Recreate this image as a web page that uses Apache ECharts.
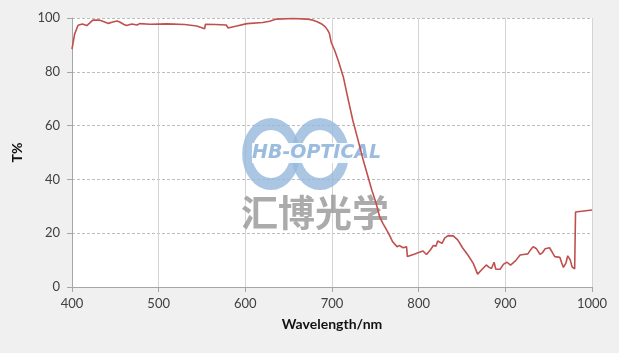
<!DOCTYPE html>
<html>
<head>
<meta charset="utf-8">
<script src="https://cdn.jsdelivr.net/npm/echarts@6/dist/echarts.min.js"></script>
<style>
    html, body { margin: 0; padding: 0; background: #f0f0f0; }
    #chart { width: 619px; height: 353px; }
</style>
</head>
<body>
<div id="chart"></div>
<script>
// wavelength (nm) and transmittance (%)
var wavelength = [400, 403, 407, 412, 417, 420, 424, 432, 437, 442, 447, 452, 455, 460, 463, 469, 475, 478,
    490, 510, 530, 544, 553, 554, 565, 578, 580, 590, 602, 620, 628, 636, 655, 671, 678, 683, 688, 692,
    695, 697, 699, 703, 707, 713, 718, 724, 729, 736, 746, 751, 755, 759, 763, 767, 770, 775, 778, 782,
    786, 787, 794, 800, 805, 809, 813, 817, 820, 822, 827, 830, 834, 840, 845, 851, 857, 863, 868, 873,
    878, 881, 884, 887, 889, 894, 898, 902, 906, 912, 917, 921, 926, 929, 932, 936, 940, 943, 946, 951,
    954, 957, 963, 965, 967, 970, 972, 975, 977, 980, 981, 1000];
var transmittance = [88.4, 94, 97.3, 97.8, 97.2, 98, 99.2, 99.2, 98.6, 98, 98.5, 98.9, 98.5, 97.6, 97.2, 97.8, 97.4, 97.9,
    97.7, 97.8, 97.6, 97.0, 96.0, 97.7, 97.6, 97.4, 96.3, 97.0, 97.9, 98.3, 98.8, 99.6, 99.8, 99.6, 99.2, 98.6, 97.8, 96.8,
    95.5, 94.3, 91, 88, 84.4, 78.2, 70.7, 62, 55.9, 47.2, 36, 31, 26.1, 23.5, 21.2, 18.8, 16.8, 15, 15.4, 14.6,
    15, 11.3, 12.1, 12.8, 13.4, 12.1, 13.6, 15.4, 15.2, 17.1, 16.2, 18.2, 19.1, 19, 17.5, 14.4, 11.8, 8.8, 4.8, 6.5,
    8.2, 7.4, 6.9, 9.2, 6.6, 6.6, 8.5, 9.2, 8.1, 9.8, 11.9, 12.1, 12.3, 13.8, 15, 14.2, 12.1, 12.8, 14.2, 14.6,
    13, 11.3, 11, 9, 7.3, 9, 11.6, 10, 7.5, 6.7, 27.9, 28.6];

var curve = [];
for (var i = 0; i < wavelength.length; i++) {
    curve.push([wavelength[i], transmittance[i]]);
}

var labelFont = 'Lato, "Open Sans", sans-serif';

var option = {
    backgroundColor: '#f0f0f0',
    animation: false,
    grid: {
        left: 72, right: 27, top: 18, bottom: 66,
        show: true, backgroundColor: '#ffffff', borderWidth: 0
    },
    xAxis: {
        type: 'value', min: 400, max: 1000, interval: 100,
        name: 'Wavelength/nm', nameLocation: 'middle', nameGap: 30,
        nameTextStyle: { fontFamily: labelFont, fontWeight: 'bold', fontSize: 14, color: '#111' },
        axisLine: { show: true, lineStyle: { color: '#a6a6a6' } },
        axisTick: { show: true, length: 5, lineStyle: { color: '#a6a6a6' } },
        axisLabel: {
            fontFamily: labelFont, fontSize: 13, color: '#404040', margin: 10,
            formatter: function (v) { return String(v); }
        },
        splitLine: { show: true, lineStyle: { color: '#d4d4d4', type: 'solid' } }
    },
    yAxis: {
        type: 'value', min: 0, max: 100, interval: 20,
        name: 'T%', nameLocation: 'middle', nameGap: 48,
        nameTextStyle: { fontFamily: labelFont, fontWeight: 'bold', fontSize: 14, color: '#111' },
        axisLine: { show: true, lineStyle: { color: '#a6a6a6' } },
        axisTick: { show: true, length: 5, lineStyle: { color: '#a6a6a6' } },
        axisLabel: { fontFamily: labelFont, fontSize: 13, color: '#404040', margin: 12 },
        splitLine: { show: true, lineStyle: { color: '#bdbdbd', type: [3, 2] } }
    },
    graphic: [
        // watermark logo
        { type: 'circle', x: 271, y: 154, scaleX: 0.8, shape: { cx: 0, cy: 0, r: 30 }, z: 100,
            style: { fill: null, stroke: 'rgba(150,184,220,0.8)', lineWidth: 12 } },
        { type: 'circle', x: 320, y: 154, scaleX: 0.8, shape: { cx: 0, cy: 0, r: 30 }, z: 100,
            style: { fill: null, stroke: 'rgba(150,184,220,0.8)', lineWidth: 12 } },
        { type: 'rect', x: 252, y: 143, shape: { width: 136, height: 20 }, z: 100,
            style: { fill: 'rgba(255,255,255,0.9)' } },
        { type: 'text', x: 252, y: 144, z: 101,
            style: { text: 'HB-OPTICAL', font: 'italic bold 19px "DejaVu Sans", sans-serif', fill: 'rgba(150,184,220,0.95)' } },
        { type: 'text', x: 241, y: 194, z: 101,
            style: { text: '汇博光学', font: 'bold 37px "Noto Sans CJK SC", sans-serif', fill: 'rgba(150,150,150,0.8)' } }
    ],
    series: [{
        type: 'line',
        data: curve,
        showSymbol: false,
        z: 200,
        lineStyle: { color: '#c0504d', width: 1.6 },
        itemStyle: { color: '#c0504d' }
    }]
};

var myChart = echarts.init(document.getElementById('chart'));
myChart.setOption(option);
</script>
</body>
</html>
